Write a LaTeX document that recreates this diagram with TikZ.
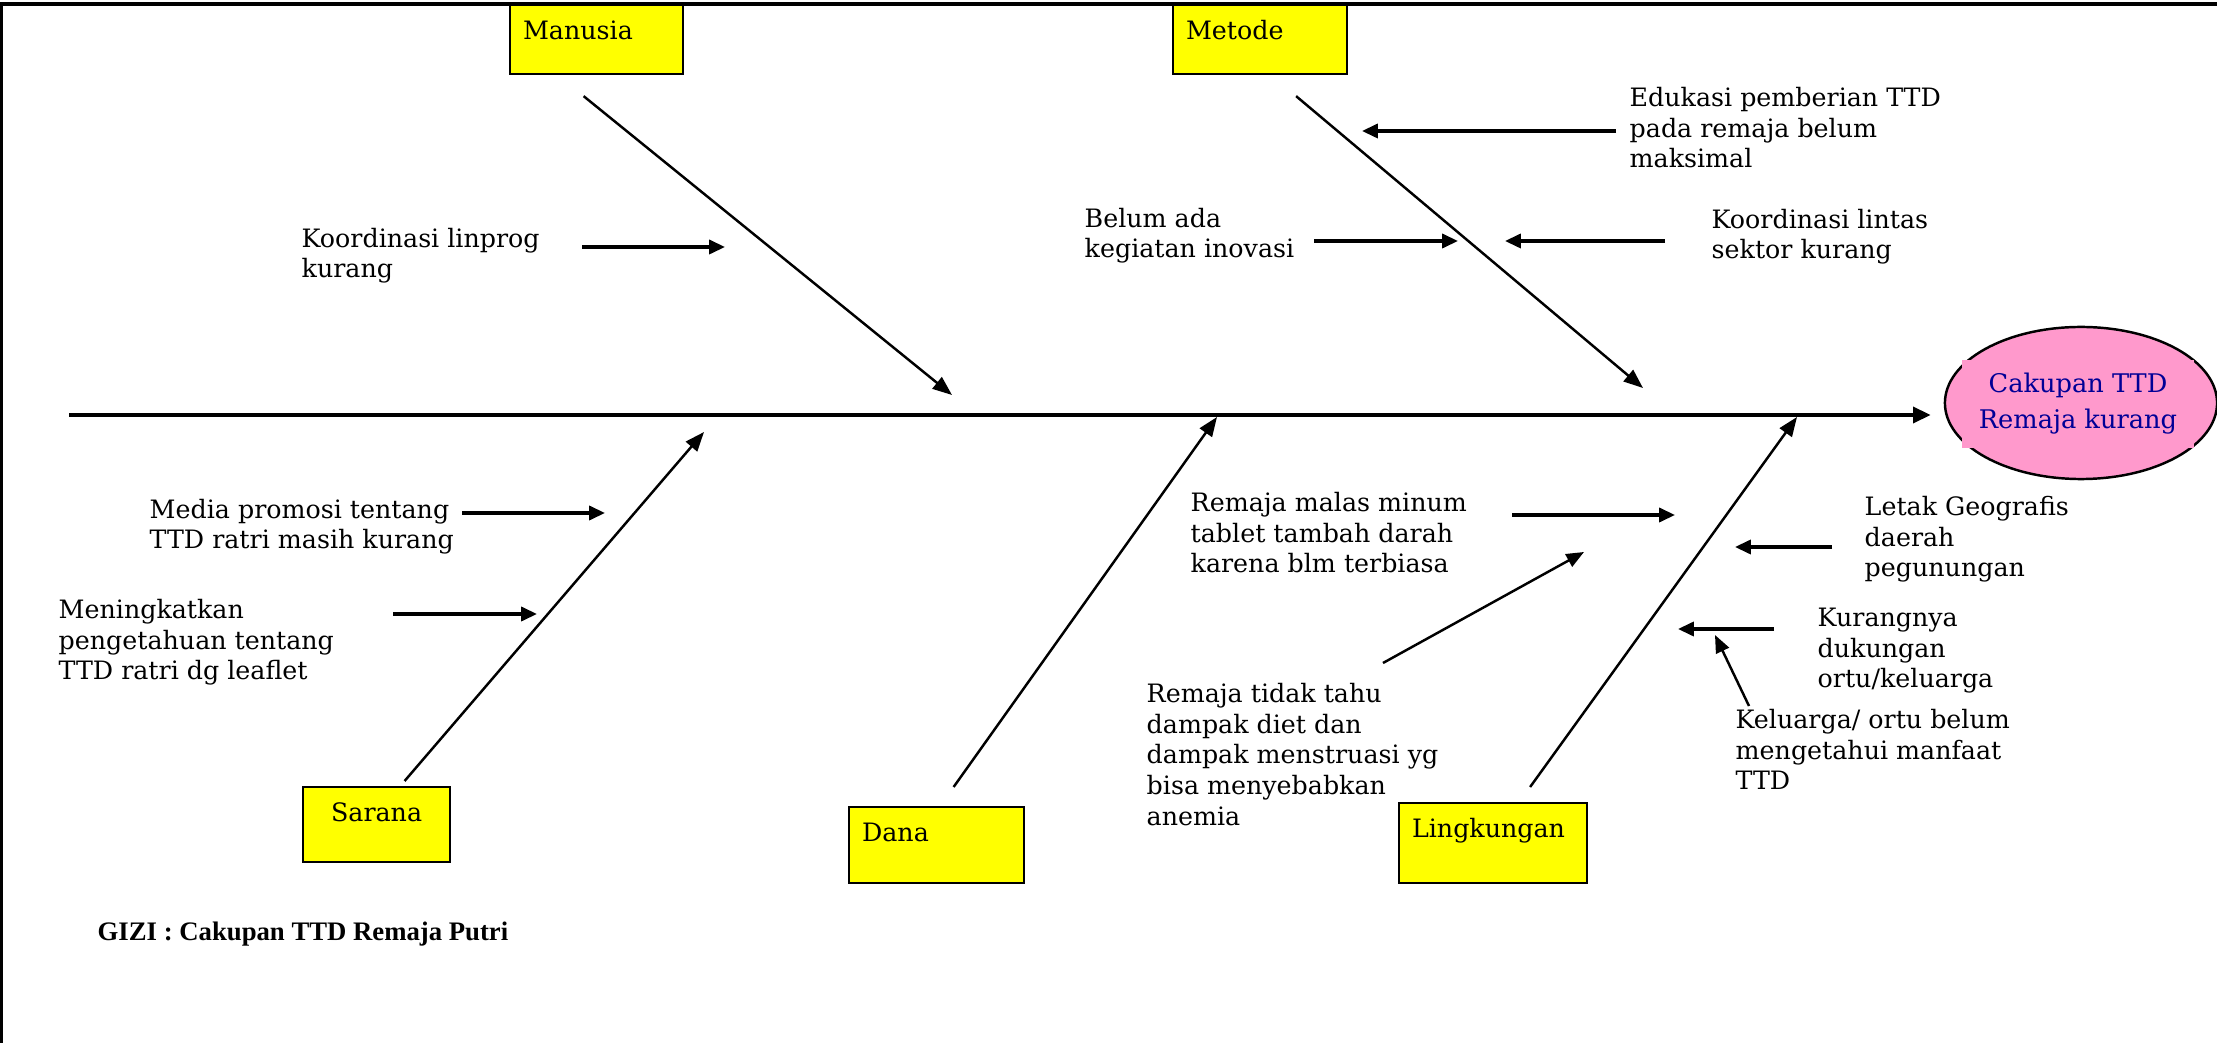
\documentclass[tikz,border=0pt]{standalone}
\usepackage{fontspec}
\usetikzlibrary{arrows.meta,shapes.geometric}

\newfontfamily\bookfont{DejaVu Serif}
\newfontfamily\timesfont{Liberation Serif}

\definecolor{boxyellow}{RGB}{255,255,0}
\definecolor{goalpink}{RGB}{255,153,204}
\definecolor{goalblue}{RGB}{0,0,150}

\tikzset{
  causetext/.style={font=\bookfont\fontsize{7.2pt}{8.7pt}\selectfont, align=left, anchor=base west, inner sep=0pt},
  fishbox/.style={draw, line width=0.6pt, fill=boxyellow, anchor=north west, inner xsep=0.13cm, inner ysep=0.1cm,
    text height=0.24cm, font=\bookfont\fontsize{7.2pt}{8.7pt}\selectfont},
  bone/.style={line width=0.7pt, -{Triangle[length=5.5pt,width=4.2pt]}},
  causearrow/.style={line width=0.9pt, -{Triangle[length=4.5pt,width=4pt]}},
}

\begin{document}
\begin{tikzpicture}[x=0.01cm, y=-0.01cm]
    \useasboundingbox (0,0) rectangle (2217,1043);

    % Page frame (top and left edge)
    \draw[line width=0.9pt] (0,4) -- (2217,4);
    \draw[line width=0.9pt] (1,4) -- (1,1043);

    % Head of the fish
    \node[draw, ellipse, fill=goalpink, line width=0.7pt, minimum width=2.72cm, minimum height=1.52cm, inner sep=0pt] (goal) at (2081,403) {};
    \node[fill=goalpink, text=goalblue, align=center, inner sep=0pt, minimum width=2.32cm, minimum height=0.88cm,
        font=\bookfont\fontsize{7.3pt}{10.2pt}\selectfont] (goaltext) at (2078,404) {Cakupan TTD\\Remaja kurang};

    % Spine
    \coordinate (tail) at (69,415);
    \draw[line width=1.1pt, -{Triangle[length=5pt,width=4.5pt]}] (tail) -- ([shift={(-13,12)}]goal.west);

    % Category boxes
    \node[fishbox, align=left, text width=1.47cm, text depth=0.25cm] (manusia) at (509,4) {Manusia};
    \node[fishbox, align=left, text width=1.48cm, text depth=0.25cm] (metode) at (1172,4) {Metode};
    \node[fishbox, align=center, text width=1.21cm, text depth=0.31cm] (sarana) at (302,786) {Sarana};
    \node[fishbox, align=left, text width=1.49cm, text depth=0.32cm] (dana) at (848,806) {Dana};
    \node[fishbox, align=left, text width=1.62cm, text depth=0.36cm] (lingkungan) at (1398,802) {Lingkungan};

    % Bones
    \coordinate (manusia-end) at (952,395);
    \coordinate (metode-end) at (1643,388);
    \coordinate (sarana-end) at (704,432);
    \coordinate (dana-end) at (1217,417);
    \coordinate (lingkungan-end) at (1797,417);
    \draw[bone] ([shift={(-13,21)}]manusia.south) -- (manusia-end);
    \draw[bone] ([shift={(36,21)}]metode.south) -- (metode-end);
    \draw[bone] ([shift={(28,-5)}]sarana.north) -- (sarana-end);
    \draw[bone] ([shift={(17,-19)}]dana.north) -- (dana-end);
    \draw[bone] ([shift={(37,-15)}]lingkungan.north) -- (lingkungan-end);

    % Causes (placed at the baseline of their last line)
    \node[causetext] (koord) at (301,278) {Koordinasi linprog\\kurang};
    \node[causetext] (edukasi) at (1629,168) {Edukasi pemberian TTD\\pada remaja belum\\maksimal};
    \node[causetext] (belum) at (1084,258) {Belum ada\\kegiatan inovasi};
    \node[causetext] (lintas) at (1711,259) {Koordinasi lintas\\sektor kurang};
    \node[causetext] (media) at (149,549) {Media promosi tentang\\TTD ratri masih kurang};
    \node[causetext] (meningkat) at (58,680) {Meningkatkan\\pengetahuan tentang\\TTD ratri dg leaflet};
    \node[causetext] (malas) at (1190,573) {Remaja malas minum\\tablet tambah darah\\karena blm terbiasa};
    \node[causetext] (tidaktahu) at (1146,825) {Remaja tidak tahu\\dampak diet dan\\dampak menstruasi yg\\bisa menyebabkan\\anemia};
    \node[causetext] (letak) at (1864,577) {Letak Geografis\\daerah\\pegunungan};
    \node[causetext] (kurangnya) at (1817,688) {Kurangnya\\dukungan\\ortu/keluarga};
    \node[causetext] (keluarga) at (1735,790) {Keluarga/ ortu belum\\mengetahui manfaat\\TTD};

    \coordinate (koord-end) at (725,247);
    \coordinate (edukasi-end) at (1362,131);
    \coordinate (belum-end) at (1458,241);
    \coordinate (lintas-end) at (1505,241);
    \coordinate (media-end) at (605,513);
    \coordinate (meningkat-end) at (537,614);
    \coordinate (malas-end) at (1675,515);
    \coordinate (tidaktahu-end) at (1584,552);
    \coordinate (letak-end) at (1735,547);
    \coordinate (kurangnya-end) at (1678,629);
    \coordinate (keluarga-end) at (1715,635);

    \draw[causearrow] ([shift={(281,-31)}]koord.base west) -- (koord-end);
    \draw[causearrow] ([shift={(-13,-37)}]edukasi.base west) -- (edukasi-end);
    \draw[causearrow] ([shift={(230,-17)}]belum.base west) -- (belum-end);
    \draw[causearrow] ([shift={(-46,-18)}]lintas.base west) -- (lintas-end);
    \draw[causearrow] ([shift={(313,-36)}]media.base west) -- (media-end);
    \draw[causearrow] ([shift={(335,-66)}]meningkat.base west) -- (meningkat-end);
    \draw[causearrow] ([shift={(322,-58)}]malas.base west) -- (malas-end);
    \draw[line width=0.7pt, -{Triangle[length=5pt,width=4pt]}] ([shift={(237,-162)}]tidaktahu.base west) -- (tidaktahu-end);
    \draw[causearrow] ([shift={(-32,-30)}]letak.base west) -- (letak-end);
    \draw[causearrow] ([shift={(-43,-59)}]kurangnya.base west) -- (kurangnya-end);
    \draw[line width=0.7pt, -{Triangle[length=5pt,width=4pt]}] ([shift={(14,-84)}]keluarga.base west) -- (keluarga-end);

    % Caption
    \node[anchor=base west, inner sep=0pt, font=\timesfont\bfseries\fontsize{7.6pt}{9pt}\selectfont] (caption) at (97,940) {GIZI : Cakupan TTD Remaja Putri};
\end{tikzpicture}
\end{document}
